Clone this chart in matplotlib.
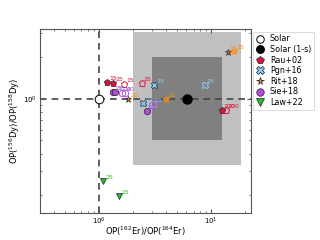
import matplotlib
matplotlib.use("Agg")
import matplotlib.pyplot as plt
from matplotlib.patches import Rectangle

# Data
solar_x, solar_y = 1.0, 1.0
solar1s_x, solar1s_y = 6.1, 1.0
box2s = (2.0, 18.5, 0.33, 3.05)   # xmin, xmax, ymin, ymax
box1s = (3.0, 12.4, 0.50, 2.03)

rau_x = [1.18, 1.35, 1.69, 2.41, 12.4, 13.5]
rau_y = [1.33, 1.30, 1.28, 1.30, 0.83, 0.83]
rau_filled = [True, True, False, False, True, False]
rau_lab = ["15", "25", "15", "25", "200", "200"]

pgn_x = [3.12, 2.46, 3.02, 8.75]
pgn_y = [1.26, 0.93, 0.915, 1.26]
pgn_filled = [True, True, False, False]
pgn_lab = ["25", "15", "15", "25"]

rit_x = [1.83, 3.94, 14.0, 16.0]
rit_y = [0.995, 0.995, 2.20, 2.24]
rit_filled = [True, False, True, False]
rit_lab = ["20", "20", "15", "25"]

sie_x = [1.33, 1.40, 1.60, 1.71, 2.67, 2.95]
sie_y = [1.12, 1.12, 1.10, 1.10, 0.82, 0.90]
sie_filled = [True, True, False, False, True, False]
sie_lab = ["15", "15", "20", "40", "25", "25"]

law_x = [1.10, 1.52]
law_y = [0.252, 0.198]
law_filled = [True, True]
law_lab = ["25", "15"]

fig = plt.figure(figsize=(3.2, 2.4), dpi=100)
ax = fig.add_axes([0.125, 0.111, 0.659, 0.769])
ax.set_xscale("log")
ax.set_yscale("log")
ax.set_xlim(0.3, 22.6)
ax.set_ylim(0.148, 3.23)

ax.add_patch(Rectangle((box2s[0], box2s[2]), box2s[1] - box2s[0], box2s[3] - box2s[2],
                       facecolor="#c0c0c0", edgecolor="none", zorder=0))
ax.add_patch(Rectangle((box1s[0], box1s[2]), box1s[1] - box1s[0], box1s[3] - box1s[2],
                       facecolor="#808080", edgecolor="none", zorder=0.5))

ax.axvline(1.0, color="#444444", ls=(0, (4, 3)), lw=1.2, zorder=1)
ax.axhline(1.0, color="#444444", ls=(0, (4, 3)), lw=1.2, zorder=1)

ms = 4.6
ax.plot([solar_x], [solar_y], "o", mfc="white", mec="black", ms=6.2, mew=0.7, zorder=5, label="Solar")
ax.plot([solar1s_x], [solar1s_y], "o", mfc="black", mec="black", ms=6.5, zorder=5, label="Solar (1-s)")

groups = [
    ("Rau+02", rau_x, rau_y, rau_filled, rau_lab, "p", "#dc143c"),
    ("Pgn+16", pgn_x, pgn_y, pgn_filled, pgn_lab, "X", "#87cefa"),
    ("Rit+18", rit_x, rit_y, rit_filled, rit_lab, "*", "#ff8c00"),
    ("Sie+18", sie_x, sie_y, sie_filled, sie_lab, "o", "#b44ad8"),
    ("Law+22", law_x, law_y, law_filled, law_lab, "v", "#22c022"),
]

for name, xs, ys, filled, labs, mk, col in groups:
    first = True
    for x, y, f, lab in zip(xs, ys, filled, labs):
        if f:
            ax.plot([x], [y], mk, mfc=col, mec="#222233", ms=ms, mew=0.5, zorder=4,
                    label=name if first else None)
            first = False
        else:
            ax.plot([x], [y], mk, mfc="none", mec=col, ms=ms, mew=0.7, zorder=4)
        ax.annotate(lab, (x, y), xytext=(1.5, 1.5), textcoords="offset points",
                    fontsize=4.5, color=col, zorder=6)

ax.tick_params(which="both", direction="in", top=True, right=True, labelsize=5,
               color="#555555", pad=2)
ax.tick_params(which="major", length=3)
ax.tick_params(which="minor", length=1.5)
for s in ax.spines.values():
    s.set_color("#555555")
    s.set_linewidth(0.8)

ax.set_xlabel("OP($^{162}$Er)/OP($^{164}$Er)", fontsize=6)
ax.set_ylabel("OP($^{156}$Dy)/OP($^{158}$Dy)", fontsize=6)
ax.xaxis.set_label_coords(0.5, -0.062)
ax.yaxis.set_label_coords(-0.085, 0.5)

leg = ax.legend(loc="upper left", bbox_to_anchor=(1.012, 0.985), fontsize=5.8,
                frameon=True, borderpad=0.35, labelspacing=0.2, handletextpad=0.7,
                handlelength=1.0, borderaxespad=0, fancybox=False)
for h in leg.legend_handles:
    h.set_markersize(5.4)
leg.get_frame().set_edgecolor("#cccccc")
leg.get_frame().set_linewidth(0.6)

fig.savefig("out.png", dpi=100)
